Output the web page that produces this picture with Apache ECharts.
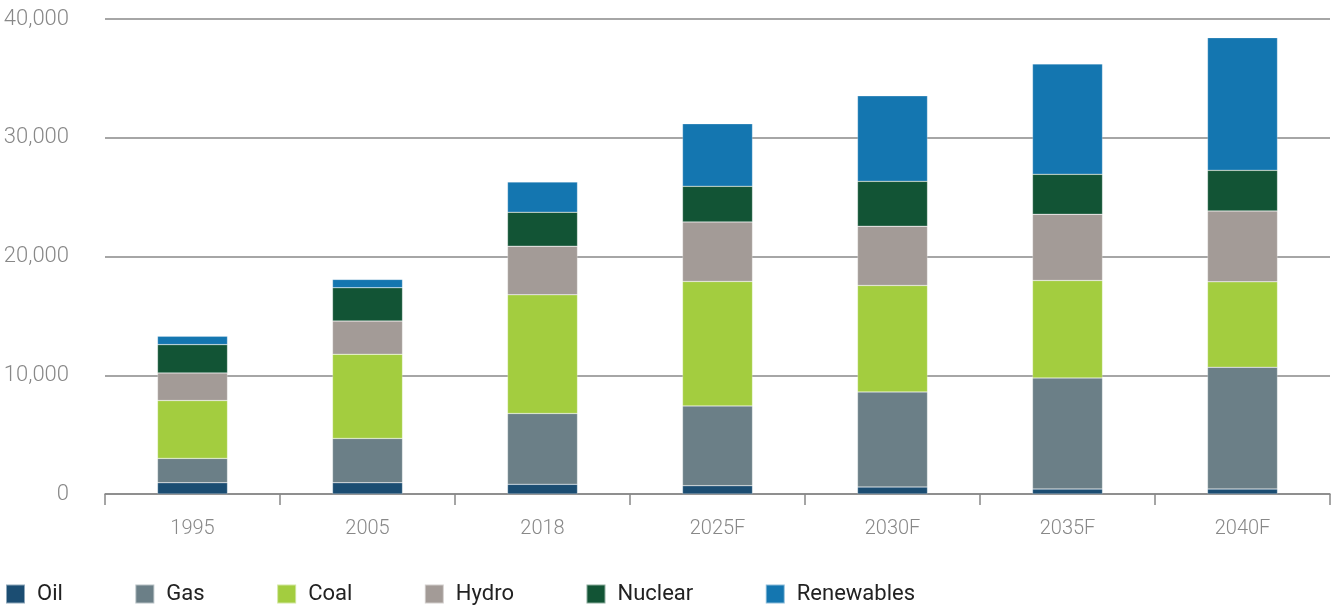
<!DOCTYPE html>
<html>
<head>
<meta charset="utf-8">
<script src="https://cdn.jsdelivr.net/npm/echarts@6/dist/echarts.min.js"></script>
<style>html,body{margin:0;padding:0;background:#fff}#c{width:1333px;height:606px}</style>
</head>
<body>
<div id="c"></div>
<script>
const categories = ['1995', '2005', '2018', '2025F', '2030F', '2035F', '2040F'];
const oil        = [950, 950, 815, 700, 590, 420, 420];
const gas        = [2050, 3730, 5965, 6720, 8010, 9355, 10250];
const coal       = [4870, 7085, 10000, 10480, 8960, 8205, 7200];
const hydro      = [2330, 2800, 4090, 5015, 4990, 5575, 5970];
const nuclear    = [2380, 2805, 2855, 2995, 3780, 3365, 3415];
const renewables = [700, 700, 2550, 5270, 7200, 9300, 11175];
const yTicks = [0, 10000, 20000, 30000, 40000];

const seriesDefs = [
  ['Oil', oil, '#1b4d72'],
  ['Gas', gas, '#6b7f87'],
  ['Coal', coal, '#a3cd3f'],
  ['Hydro', hydro, '#a39b97'],
  ['Nuclear', nuclear, '#125435'],
  ['Renewables', renewables, '#1476b0']
];

const chart = echarts.init(document.getElementById('c'), null, {renderer: 'canvas'});
chart.setOption({
  animation: false,
  textStyle: {fontFamily: 'Roboto'},
  grid: {left: 105, right: 3, top: 19, bottom: 112, containLabel: false},
  legend: {
    left: 5, top: 583, padding: 0,
    itemWidth: 19, itemHeight: 19, itemGap: 71.5,
    icon: 'rect',
    textStyle: {fontSize: 22, color: '#222', fontFamily: 'Roboto', padding: [0, 0, 0, 7]},
    data: seriesDefs.map(d => d[0])
  },
  xAxis: {
    type: 'category',
    data: categories,
    axisLine: {lineStyle: {color: '#888', width: 1.5}},
    axisTick: {show: true, length: 11, alignWithLabel: false, lineStyle: {color: '#888', width: 1.5}},
    axisLabel: {color: '#888', fontSize: 20, fontWeight: 300, margin: 25}
  },
  yAxis: {
    type: 'value',
    min: yTicks[0], max: yTicks[yTicks.length - 1], interval: 10000,
    axisLine: {show: false},
    axisTick: {show: false},
    splitLine: {lineStyle: {color: '#888', width: 1.5}},
    axisLabel: {color: '#888', fontSize: 22, fontWeight: 300, margin: 36,
      formatter: v => v.toLocaleString('en-US')}
  },
  series: seriesDefs.map(([name, data, color]) => ({
    name, type: 'bar', stack: 'total', data,
    barWidth: 70,
    itemStyle: {color, borderColor: 'rgba(255,255,255,0.5)', borderWidth: 0.5}
  }))
});
</script>
</body>
</html>
